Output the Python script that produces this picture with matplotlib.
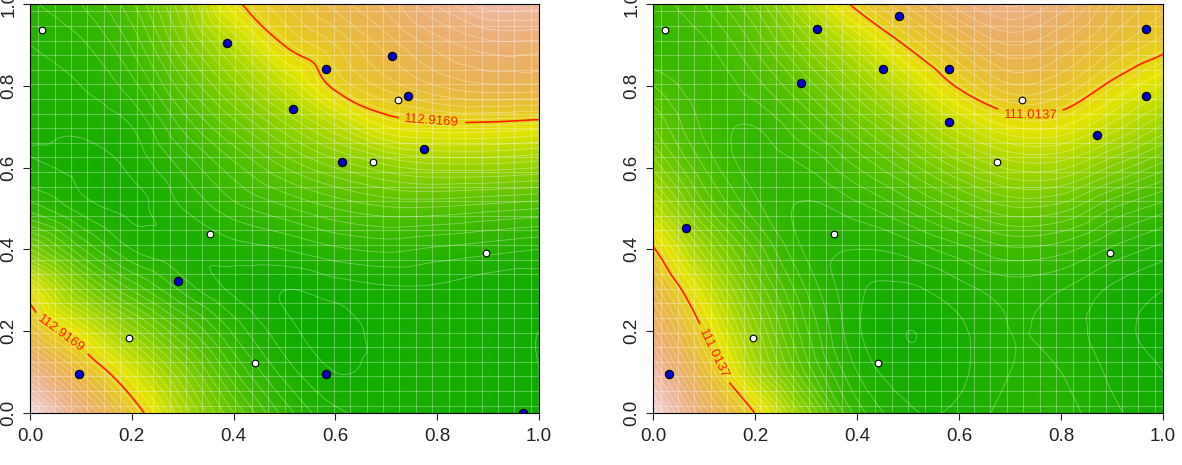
import numpy as np
import matplotlib
matplotlib.use("Agg")
import matplotlib.pyplot as plt
import matplotlib.tri as mtri
from matplotlib.colors import ListedColormap, hsv_to_rgb

plt.rcParams["font.family"] = ["Liberation Sans", "DejaVu Sans"]

# coarse grid (x across, y up)
grid_x = [0.0, 0.1, 0.2, 0.3, 0.4, 0.5, 0.6, 0.7, 0.8, 0.9, 1.0]
grid_y = [0.0, 0.1, 0.2, 0.3, 0.4, 0.5, 0.6, 0.7, 0.8, 0.9, 1.0]

# shade of the surface (0 = darkest green, 1 = white), rows from y=0.0 to y=1.0
left_shade = [
    [0.95, 0.76, 0.58, 0.40, 0.25, 0.14, 0.08, 0.07, 0.07, 0.06, 0.05],
    [0.78, 0.62, 0.47, 0.32, 0.18, 0.09, 0.05, 0.06, 0.07, 0.06, 0.05],
    [0.61, 0.48, 0.34, 0.22, 0.12, 0.06, 0.04, 0.06, 0.07, 0.06, 0.05],
    [0.50, 0.32, 0.20, 0.12, 0.07, 0.05, 0.06, 0.07, 0.07, 0.06, 0.06],
    [0.30, 0.18, 0.10, 0.08, 0.09, 0.10, 0.12, 0.13, 0.12, 0.11, 0.10],
    [0.14, 0.09, 0.07, 0.10, 0.14, 0.17, 0.20, 0.22, 0.22, 0.21, 0.20],
    [0.08, 0.07, 0.08, 0.13, 0.19, 0.25, 0.30, 0.34, 0.36, 0.36, 0.35],
    [0.08, 0.08, 0.10, 0.18, 0.26, 0.34, 0.42, 0.50, 0.52, 0.52, 0.51],
    [0.09, 0.10, 0.14, 0.24, 0.34, 0.44, 0.55, 0.61, 0.65, 0.67, 0.67],
    [0.10, 0.12, 0.18, 0.30, 0.42, 0.54, 0.60, 0.66, 0.71, 0.74, 0.74],
    [0.12, 0.15, 0.22, 0.35, 0.52, 0.60, 0.66, 0.71, 0.78, 0.84, 0.84],
]
right_shade = [
    [0.95, 0.72, 0.54, 0.32, 0.14, 0.08, 0.08, 0.11, 0.11, 0.08, 0.06],
    [0.84, 0.62, 0.40, 0.22, 0.10, 0.06, 0.07, 0.10, 0.10, 0.07, 0.05],
    [0.74, 0.54, 0.34, 0.18, 0.08, 0.05, 0.07, 0.10, 0.09, 0.06, 0.04],
    [0.65, 0.46, 0.28, 0.15, 0.08, 0.07, 0.09, 0.11, 0.10, 0.07, 0.05],
    [0.55, 0.36, 0.22, 0.12, 0.10, 0.11, 0.14, 0.17, 0.16, 0.12, 0.09],
    [0.42, 0.26, 0.16, 0.12, 0.14, 0.18, 0.23, 0.27, 0.26, 0.20, 0.16],
    [0.32, 0.20, 0.14, 0.15, 0.20, 0.26, 0.33, 0.38, 0.38, 0.32, 0.26],
    [0.25, 0.17, 0.15, 0.20, 0.27, 0.35, 0.44, 0.50, 0.50, 0.44, 0.37],
    [0.20, 0.16, 0.19, 0.26, 0.35, 0.45, 0.55, 0.62, 0.60, 0.53, 0.47],
    [0.15, 0.17, 0.23, 0.33, 0.44, 0.55, 0.64, 0.70, 0.67, 0.61, 0.56],
    [0.16, 0.20, 0.28, 0.42, 0.56, 0.66, 0.74, 0.78, 0.74, 0.66, 0.61],
]
left_range = (100.0, 124.0)
right_range = (98.0, 122.0)
left_level = 112.9169
right_level = 111.0137

# white points (same in both panels)
white_x = [0.024, 0.195, 0.354, 0.442, 0.674, 0.723, 0.896]
white_y = [0.937, 0.183, 0.438, 0.122, 0.614, 0.765, 0.391]

left_blue_x = [0.387, 0.516, 0.711, 0.581, 0.742, 0.774, 0.613, 0.581, 0.969, 0.291, 0.096]
left_blue_y = [0.905, 0.743, 0.873, 0.841, 0.775, 0.645, 0.614, 0.095, 0.000, 0.323, 0.095]

right_blue_x = [0.322, 0.290, 0.451, 0.482, 0.065, 0.031, 0.580, 0.580, 0.967, 0.967, 0.871]
right_blue_y = [0.939, 0.807, 0.841, 0.971, 0.452, 0.095, 0.841, 0.711, 0.939, 0.775, 0.680]

ticks = [0.0, 0.2, 0.4, 0.6, 0.8, 1.0]
tick_labels = ["0.0", "0.2", "0.4", "0.6", "0.8", "1.0"]


def terrain_colors(n):
    # R's terrain.colors
    k = n // 2
    h = np.r_[np.linspace(4 / 12, 2 / 12, k), np.linspace(2 / 12, 0, n - k + 1)[1:]]
    s = np.r_[np.linspace(1, 1, k), np.linspace(1, 0, n - k + 1)[1:]]
    v = np.r_[np.linspace(0.65, 0.9, k), np.linspace(0.9, 0.95, n - k + 1)[1:]]
    return ListedColormap(hsv_to_rgb(np.column_stack([h, s, v])))


cmap = terrain_colors(256)


def draw_panel(ax, shade, zrange, level, blue_x, blue_y, label_pos):
    lo, hi = zrange
    gx, gy = np.meshgrid(grid_x, grid_y)
    z = lo + (hi - lo) * np.array(shade)
    tri = mtri.Triangulation(gx.ravel(), gy.ravel())
    interp = mtri.CubicTriInterpolator(tri, z.ravel(), kind="geom")
    fx, fy = np.meshgrid(np.linspace(0, 1, 201), np.linspace(0, 1, 201))
    fz = np.asarray(interp(fx, fy))

    ax.imshow(fz, origin="lower", extent=(0, 1, 0, 1), cmap=cmap,
              vmin=lo, vmax=hi, interpolation="bilinear", aspect="auto")
    ax.contour(fx, fy, fz, levels=np.linspace(lo, hi, 41), colors="white",
               linewidths=0.6, alpha=0.35)
    cs = ax.contour(fx, fy, fz, levels=[level], colors="#ff2000", linewidths=1.2)
    ax.clabel(cs, fmt="%.4f", fontsize=9.5, inline=True, inline_spacing=6,
              manual=label_pos)

    ax.plot(blue_x, blue_y, "o", ms=6, mfc="#0000c8", mec="black", mew=0.8)
    ax.plot(white_x, white_y, "o", ms=4.8, mfc="white", mec="black", mew=0.8)

    # light seams of the image cells
    ax.set_xticks(np.arange(0.5, 31) / 31, minor=True)
    ax.set_yticks(np.arange(0.5, 28) / 28, minor=True)
    ax.grid(which="minor", color="white", alpha=0.3, linewidth=0.8)
    ax.tick_params(which="minor", length=0)

    ax.set_xlim(0, 1)
    ax.set_ylim(0, 1)
    ax.set_xticks(ticks)
    ax.set_xticklabels(tick_labels)
    ax.set_yticks(ticks)
    ax.set_yticklabels(tick_labels, rotation=90, va="center")
    ax.tick_params(which="major", length=5, width=0.8, pad=6, labelsize=13.5,
                   colors="#222222")
    ax.tick_params(axis="y", which="major", pad=4)
    for sp in ax.spines.values():
        sp.set_linewidth(0.8)


fig = plt.figure(figsize=(11.82, 4.65), dpi=100)
ax1 = fig.add_axes([0.0254, 0.1118, 0.4306, 0.8796])
ax2 = fig.add_axes([0.5525, 0.1118, 0.4315, 0.8796])

draw_panel(ax1, left_shade, left_range, left_level, left_blue_x, left_blue_y,
           [(0.79, 0.72), (0.07, 0.21)])
draw_panel(ax2, right_shade, right_range, right_level, right_blue_x, right_blue_y,
           [(0.74, 0.73), (0.13, 0.15)])

fig.savefig("out.png", dpi=100)
